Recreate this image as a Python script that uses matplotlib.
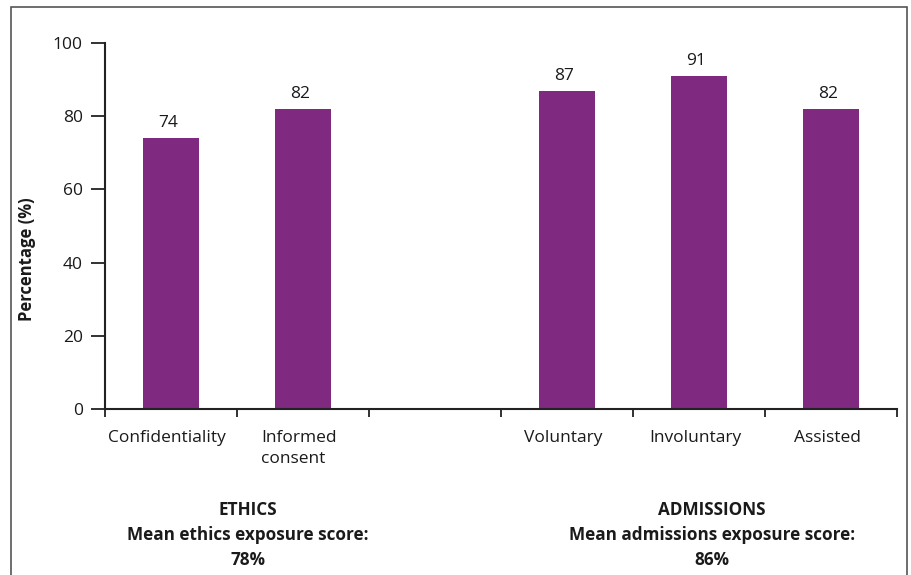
import matplotlib
matplotlib.use("Agg")
import matplotlib.pyplot as plt
from matplotlib.patches import Rectangle
from matplotlib.transforms import blended_transform_factory

plt.rcParams['font.family'] = ['Open Sans', 'DejaVu Sans']

# Exposure scores (%) per topic
ethics_items = ["Confidentiality", "Informed\nconsent"]
ethics_values = [74, 82]
admissions_items = ["Voluntary", "Involuntary", "Assisted"]
admissions_values = [87, 91, 82]

ethics_title = "ETHICS"
ethics_mean = 78
admissions_title = "ADMISSIONS"
admissions_mean = 86

y_ticks = [0, 20, 40, 60, 80, 100]

BAR = "#7f2a80"
INK = "#1a1a1a"

fig = plt.figure(figsize=(9.12, 5.75), dpi=100)
ax = fig.add_axes([105 / 912, 1 - 409 / 575, 792 / 912, 366 / 575])

# one empty slot separates the two groups
labels = ethics_items + [""] + admissions_items
values = ethics_values + [None] + admissions_values
positions = [i for i, v in enumerate(values) if v is not None]
heights = [v for v in values if v is not None]

bars = ax.bar(positions, heights, width=0.43, color=BAR, zorder=2)
for rect, v in zip(bars, heights):
    ax.annotate(f"{v}", (rect.get_x() + rect.get_width() / 2, v),
                xytext=(-2, 5), textcoords="offset points",
                ha="center", va="bottom", fontsize=12.5, color=INK)

ax.set_xlim(-0.5, len(labels) - 0.5)
ax.set_ylim(0, 100)

# major ticks mark the slot boundaries, minor ticks carry the names
ax.set_xticks([i - 0.5 for i in range(len(labels) + 1)])
ax.set_xticklabels([])
ax.set_xticks([p - 0.03 for p in range(len(labels))], labels, minor=True)
for lbl in ax.get_xticklabels(minor=True):
    lbl.set_multialignment("left")
    lbl.set_linespacing(1.45)
ax.tick_params(axis="x", which="major", direction="out", length=6, width=1.3, color="#222222")
ax.tick_params(axis="x", which="minor", length=0, pad=15, labelsize=12.5, labelcolor=INK)

ax.set_yticks(y_ticks)
ax.tick_params(axis="y", direction="out", length=10, width=1.3, color="#222222",
               labelsize=12.5, labelcolor=INK, pad=6)

for side in ("top", "right"):
    ax.spines[side].set_visible(False)
for side in ("left", "bottom"):
    ax.spines[side].set_linewidth(1.5)
    ax.spines[side].set_color("#222222")

ax.set_ylabel("Percentage (%)", fontsize=12, fontweight="bold", color=INK)
ax.yaxis.set_label_coords(-0.087, 0.41)

# group captions under the axis
trans = blended_transform_factory(ax.transData, fig.transFigure)
for xc, title, mean in ((0.58, ethics_title, ethics_mean),
                        (4.1, admissions_title, admissions_mean)):
    ax.text(xc, 1 - 510 / 575, title, transform=trans, ha="center", va="center",
            fontsize=12.3, fontweight="bold", color=INK)
    ax.text(xc, 1 - 535 / 575, f"Mean {title.lower()} exposure score:", transform=trans,
            ha="center", va="center", fontsize=12.3, fontweight="bold", color=INK)
    ax.text(xc, 1 - 560 / 575, f"{mean}%", transform=trans, ha="center", va="center",
            fontsize=12.3, fontweight="bold", color=INK)

# surrounding panel frame, open at the bottom edge
frame = Rectangle((11 / 912, -0.05), (907 - 11) / 912, 1 - 7 / 575 + 0.05,
                  transform=fig.transFigure, fill=False, edgecolor="#555555",
                  linewidth=1.2, zorder=0)
fig.patches.append(frame)

fig.savefig("out.png", dpi=100)
